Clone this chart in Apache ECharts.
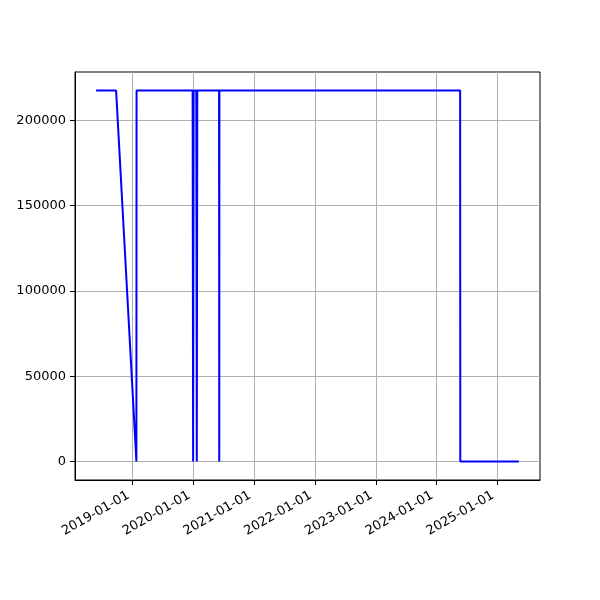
<!DOCTYPE html>
<html>
<head>
<meta charset="utf-8">
<script src="https://cdn.jsdelivr.net/npm/echarts@6/dist/echarts.min.js"></script>
<style>html,body{margin:0;padding:0;background:#fff}#c{width:600px;height:600px}</style>
</head>
<body>
<div id="c"></div>
<script>
const dates = ['2018-05-26','2018-09-23','2019-01-23','2019-01-24','2019-12-27','2019-12-30','2020-01-02','2020-01-18','2020-01-21','2020-01-24','2020-06-03','2020-06-04','2020-06-05','2024-05-22','2024-05-23','2025-05-10'];
const values = [217500,217500,0,217500,217500,0,217500,217500,0,217500,217500,0,217500,217500,0,0];
const xTickLabels = ['2019-01-01','2020-01-01','2021-01-01','2022-01-01','2023-01-01','2024-01-01','2025-01-01'];
const yTickValues = [0,50000,100000,150000,200000];

const toTs = s => { const [y,m,d] = s.split('-').map(Number); return Date.UTC(y, m-1, d); };
const xTicks = xTickLabels.map(toTs);
const seriesData = dates.map((d,i) => [toTs(d), values[i]]);
const pad = v => 0.05*(v.max - v.min);
const font = 'DejaVu Sans';
const fmtDate = v => { const d = new Date(v); return d.getUTCFullYear()+'-'+String(d.getUTCMonth()+1).padStart(2,'0')+'-'+String(d.getUTCDate()).padStart(2,'0'); };

const chart = echarts.init(document.getElementById('c'), null, {renderer:'canvas'});
chart.setOption({
  animation:false,
  backgroundColor:'#fff',
  grid:{left:75, right:60, top:72, bottom:120, show:true, borderColor:'#000', borderWidth:1, backgroundColor:'transparent', containLabel:false},
  xAxis:{
    type:'value',
    scale:true,
    min: v => v.min - pad(v),
    max: v => v.max + pad(v),
    axisLine:{show:true, onZero:false, lineStyle:{color:'#000', width:1}},
    axisTick:{show:true, length:5, inside:false, lineStyle:{color:'#000'}, customValues:xTicks},
    axisLabel:{customValues:xTicks, rotate:30, margin:12, padding:[0,5,0,0], fontFamily:font, fontSize:13, color:'#000',
      formatter: v => fmtDate(v), hideOverlap:false},
    splitLine:{show:true, lineStyle:{color:'#b0b0b0', width:1}}
  },
  yAxis:{
    type:'value',
    scale:true,
    min: v => v.min - pad(v),
    max: v => v.max + pad(v),
    axisLine:{show:true, onZero:false, lineStyle:{color:'#000', width:1}},
    axisTick:{show:true, length:5, inside:false, lineStyle:{color:'#000'}, customValues:yTickValues},
    axisLabel:{customValues:yTickValues, margin:9, fontFamily:font, fontSize:13, color:'#000', formatter: v => String(v)},
    splitLine:{show:true, lineStyle:{color:'#b0b0b0', width:1}}
  },
  series:[{
    type:'line',
    data:seriesData,
    showSymbol:false,
    symbol:'none',
    lineStyle:{color:'#0000ff', width:2},
    itemStyle:{color:'#0000ff'}
  }]
});
</script>
</body>
</html>
